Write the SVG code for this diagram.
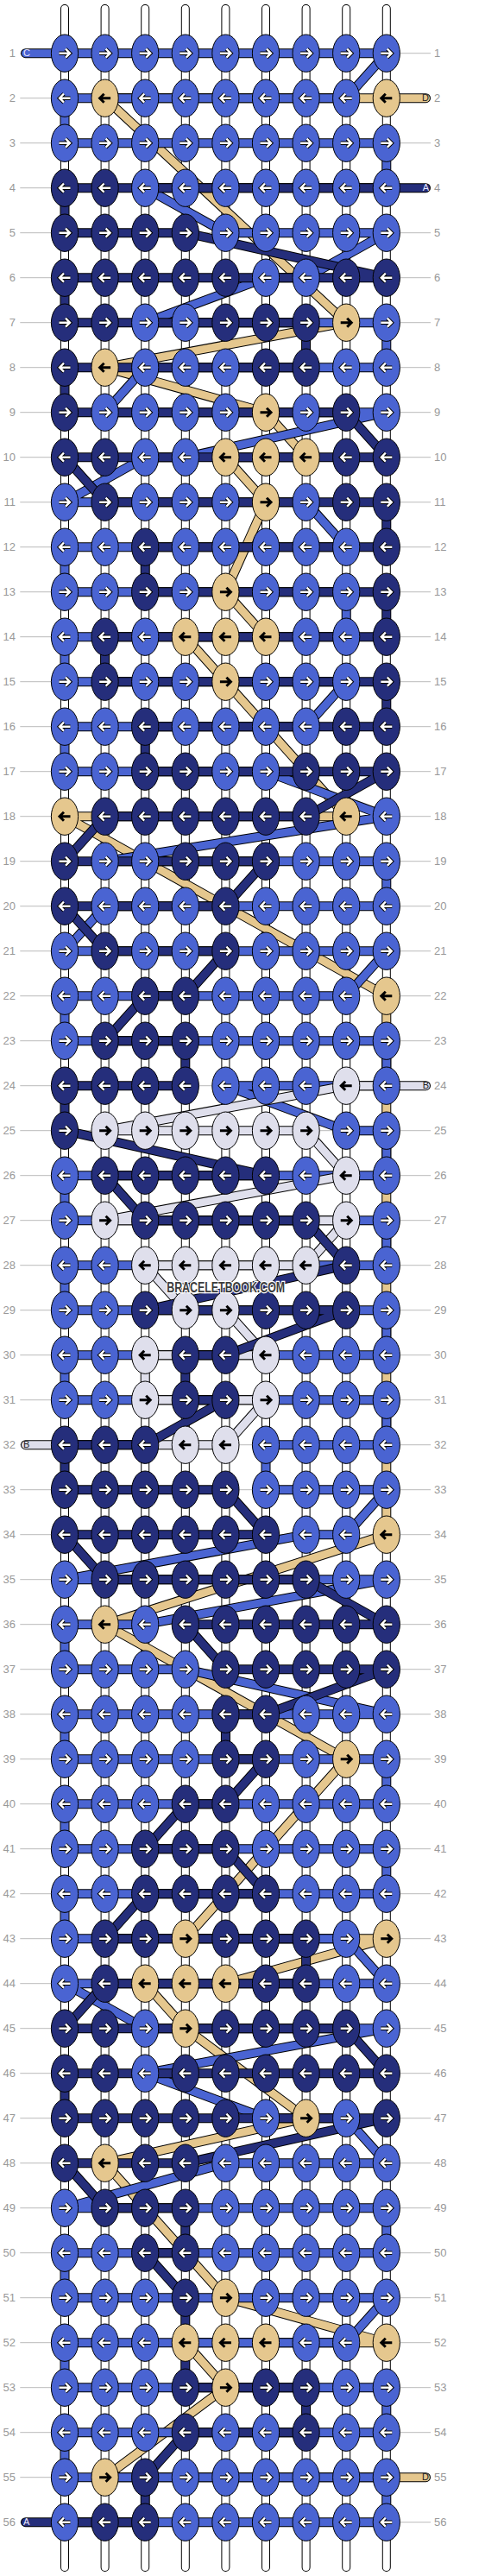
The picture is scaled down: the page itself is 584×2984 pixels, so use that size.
<svg xmlns="http://www.w3.org/2000/svg" xmlns:xlink="http://www.w3.org/1999/xlink" width="584" height="2984" viewBox="0 0 584 2984">
<style>
.rn{font-family:"Liberation Sans",Arial,sans-serif;font-size:13px;fill:#999}
.re{text-anchor:end}
.el{font-family:"Liberation Sans",Arial,sans-serif;font-size:11px}
.wm{font-family:"Liberation Sans",Arial,sans-serif;font-size:16px;font-weight:bold;fill:#3c3c3c;stroke:#fff;stroke-width:2.5px;paint-order:stroke}
</style>
<defs>
<path id="ar" fill="none" d="M-6.5 0H5M1-5 6 0 1 5"/>
<path id="al" fill="none" d="M6.5 0H-5M-1-5-6 0-1 5"/>
<g id="Lr"><ellipse rx="15.6" ry="21.7" fill="#4a64d2" stroke="#000"/><use href="#ar" stroke="#000" stroke-width="4.4"/><use href="#ar" stroke="#fff" stroke-width="2.4"/></g>
<g id="Ll"><ellipse rx="15.6" ry="21.7" fill="#4a64d2" stroke="#000"/><use href="#al" stroke="#000" stroke-width="4.4"/><use href="#al" stroke="#fff" stroke-width="2.4"/></g>
<g id="Nr"><ellipse rx="15.6" ry="21.7" fill="#252e7b" stroke="#000"/><use href="#ar" stroke="#000" stroke-width="4.4"/><use href="#ar" stroke="#fff" stroke-width="2.4"/></g>
<g id="Nl"><ellipse rx="15.6" ry="21.7" fill="#252e7b" stroke="#000"/><use href="#al" stroke="#000" stroke-width="4.4"/><use href="#al" stroke="#fff" stroke-width="2.4"/></g>
<g id="Tr"><ellipse rx="15.6" ry="21.7" fill="#e5c78e" stroke="#000"/><use href="#ar" stroke="#000" stroke-width="3"/></g>
<g id="Tl"><ellipse rx="15.6" ry="21.7" fill="#e5c78e" stroke="#000"/><use href="#al" stroke="#000" stroke-width="3"/></g>
<g id="Wr"><ellipse rx="15.6" ry="21.7" fill="#dfdfec" stroke="#000"/><use href="#ar" stroke="#000" stroke-width="3"/></g>
<g id="Wl"><ellipse rx="15.6" ry="21.7" fill="#dfdfec" stroke="#000"/><use href="#al" stroke="#000" stroke-width="3"/></g>
<path id="pW" d="M46.6 0.3V2964.3M93.2 0.3V2964.3M139.8 0.3V2964.3M186.4 0.3V2964.3M233 0.3V2964.3M279.6 0.3V2964.3M326.2 0.3V2964.3M372.8 0.3V2964.3M419.4 0.3V2964.3"/>
<polyline id="pD" points="465.1,104 419.4,104 93.2,104 372.8,364 93.2,416 279.6,468 326.2,520 233,520 279.6,572 233,676 279.6,728 186.4,728 233,780 372.8,936 46.6,936 419.4,1144 419.4,1768 93.2,1872 372.8,2028 186.4,2236 419.4,2236 233,2288 139.8,2288 186.4,2340 326.2,2444 93.2,2496 233,2652 419.4,2704 186.4,2704 233,2756 93.2,2860 465.1,2860"/>
<polyline id="pC" points="1.1,52 419.4,52 372.8,104 46.6,104 46.6,156 419.4,156 419.4,208 139.8,208 233,260 419.4,260 326.2,312 279.6,312 139.8,364 419.4,364 419.4,416 139.8,416 93.2,468 419.4,468 186.4,520 139.8,520 46.6,572 326.2,572 372.8,624 46.6,624 46.6,676 372.8,676 372.8,728 46.6,728 46.6,780 372.8,780 326.2,832 46.6,832 46.6,884 279.6,884 419.4,936 93.2,988 419.4,988 419.4,1040 93.2,1040 46.6,1092 419.4,1092 372.8,1144 46.6,1144 46.6,1196 419.4,1196 419.4,1248 233,1248 372.8,1300 419.4,1300 419.4,1352 46.6,1352 46.6,1404 419.4,1404 419.4,1456 46.6,1456 46.6,1508 419.4,1508 419.4,1560 46.6,1560 46.6,1612 419.4,1612 419.4,1664 279.6,1664 279.6,1716 419.4,1716 372.8,1768 326.2,1768 46.6,1820 419.4,1820 139.8,1872 46.6,1872 46.6,1924 186.4,1924 419.4,1976 46.6,1976 46.6,2028 419.4,2028 419.4,2080 46.6,2080 46.6,2132 419.4,2132 419.4,2184 46.6,2184 46.6,2236 372.8,2236 419.4,2288 46.6,2288 139.8,2340 419.4,2340 139.8,2392 279.6,2444 372.8,2444 419.4,2496 233,2496 46.6,2548 419.4,2548 419.4,2600 46.6,2600 46.6,2652 419.4,2652 372.8,2704 46.6,2704 46.6,2756 419.4,2756 419.4,2808 46.6,2808 46.6,2860 419.4,2860 419.4,2912 46.6,2912"/>
<polyline id="pB" points="465.1,1248 372.8,1248 93.2,1300 326.2,1300 372.8,1352 93.2,1404 372.8,1404 326.2,1456 139.8,1456 186.4,1508 233,1508 279.6,1560 139.8,1560 139.8,1612 279.6,1612 233,1664 186.4,1664 1.1,1664"/>
<polyline id="pA" points="465.1,208 46.6,208 46.6,260 186.4,260 419.4,312 46.6,312 46.6,364 326.2,364 326.2,416 46.6,416 46.6,468 372.8,468 419.4,520 46.6,520 93.2,572 419.4,572 419.4,624 139.8,624 139.8,676 419.4,676 419.4,728 93.2,728 93.2,780 419.4,780 419.4,832 139.8,832 139.8,884 419.4,884 326.2,936 93.2,936 46.6,988 279.6,988 233,1040 46.6,1040 93.2,1092 233,1092 186.4,1144 139.8,1144 93.2,1196 186.4,1196 186.4,1248 46.6,1248 46.6,1300 279.6,1352 93.2,1352 139.8,1404 326.2,1404 372.8,1456 139.8,1508 372.8,1508 233,1560 186.4,1560 186.4,1612 233,1612 139.8,1664 46.6,1664 46.6,1716 233,1716 279.6,1768 46.6,1768 93.2,1820 326.2,1820 419.4,1872 186.4,1872 233,1924 419.4,1924 279.6,1976 233,1976 233,2028 279.6,2028 233,2080 186.4,2080 139.8,2132 233,2132 279.6,2184 139.8,2184 93.2,2236 326.2,2236 326.2,2288 93.2,2288 46.6,2340 372.8,2340 419.4,2392 46.6,2392 46.6,2444 419.4,2444 186.4,2496 46.6,2496 93.2,2548 186.4,2548 186.4,2600 139.8,2600 186.4,2652 186.4,2756 326.2,2756 326.2,2808 186.4,2808 139.8,2860 139.8,2912 93.2,2912 1.1,2912"/>
</defs>
<rect width="584" height="2984" fill="#fff"/>
<g transform="translate(28.4 9.7)">
<path id="rowlines" fill="none" stroke="#bbb" stroke-width="1" d="M-5.1 52H470.6M-5.1 104H470.6M-5.1 156H470.6M-5.1 208H470.6M-5.1 260H470.6M-5.1 312H470.6M-5.1 364H470.6M-5.1 416H470.6M-5.1 468H470.6M-5.1 520H470.6M-5.1 572H470.6M-5.1 624H470.6M-5.1 676H470.6M-5.1 728H470.6M-5.1 780H470.6M-5.1 832H470.6M-5.1 884H470.6M-5.1 936H470.6M-5.1 988H470.6M-5.1 1040H470.6M-5.1 1092H470.6M-5.1 1144H470.6M-5.1 1196H470.6M-5.1 1248H470.6M-5.1 1300H470.6M-5.1 1352H470.6M-5.1 1404H470.6M-5.1 1456H470.6M-5.1 1508H470.6M-5.1 1560H470.6M-5.1 1612H470.6M-5.1 1664H470.6M-5.1 1716H470.6M-5.1 1768H470.6M-5.1 1820H470.6M-5.1 1872H470.6M-5.1 1924H470.6M-5.1 1976H470.6M-5.1 2028H470.6M-5.1 2080H470.6M-5.1 2132H470.6M-5.1 2184H470.6M-5.1 2236H470.6M-5.1 2288H470.6M-5.1 2340H470.6M-5.1 2392H470.6M-5.1 2444H470.6M-5.1 2496H470.6M-5.1 2548H470.6M-5.1 2600H470.6M-5.1 2652H470.6M-5.1 2704H470.6M-5.1 2756H470.6M-5.1 2808H470.6M-5.1 2860H470.6M-5.1 2912H470.6"/>
<g id="rownumbers" class="rn">
<text class="re" x="-10.4" y="56.6">1</text><text x="474.6" y="56.6">1</text>
<text class="re" x="-10.4" y="108.6">2</text><text x="474.6" y="108.6">2</text>
<text class="re" x="-10.4" y="160.6">3</text><text x="474.6" y="160.6">3</text>
<text class="re" x="-10.4" y="212.6">4</text><text x="474.6" y="212.6">4</text>
<text class="re" x="-10.4" y="264.6">5</text><text x="474.6" y="264.6">5</text>
<text class="re" x="-10.4" y="316.6">6</text><text x="474.6" y="316.6">6</text>
<text class="re" x="-10.4" y="368.6">7</text><text x="474.6" y="368.6">7</text>
<text class="re" x="-10.4" y="420.6">8</text><text x="474.6" y="420.6">8</text>
<text class="re" x="-10.4" y="472.6">9</text><text x="474.6" y="472.6">9</text>
<text class="re" x="-10.4" y="524.6">10</text><text x="474.6" y="524.6">10</text>
<text class="re" x="-10.4" y="576.6">11</text><text x="474.6" y="576.6">11</text>
<text class="re" x="-10.4" y="628.6">12</text><text x="474.6" y="628.6">12</text>
<text class="re" x="-10.4" y="680.6">13</text><text x="474.6" y="680.6">13</text>
<text class="re" x="-10.4" y="732.6">14</text><text x="474.6" y="732.6">14</text>
<text class="re" x="-10.4" y="784.6">15</text><text x="474.6" y="784.6">15</text>
<text class="re" x="-10.4" y="836.6">16</text><text x="474.6" y="836.6">16</text>
<text class="re" x="-10.4" y="888.6">17</text><text x="474.6" y="888.6">17</text>
<text class="re" x="-10.4" y="940.6">18</text><text x="474.6" y="940.6">18</text>
<text class="re" x="-10.4" y="992.6">19</text><text x="474.6" y="992.6">19</text>
<text class="re" x="-10.4" y="1044.6">20</text><text x="474.6" y="1044.6">20</text>
<text class="re" x="-10.4" y="1096.6">21</text><text x="474.6" y="1096.6">21</text>
<text class="re" x="-10.4" y="1148.6">22</text><text x="474.6" y="1148.6">22</text>
<text class="re" x="-10.4" y="1200.6">23</text><text x="474.6" y="1200.6">23</text>
<text class="re" x="-10.4" y="1252.6">24</text><text x="474.6" y="1252.6">24</text>
<text class="re" x="-10.4" y="1304.6">25</text><text x="474.6" y="1304.6">25</text>
<text class="re" x="-10.4" y="1356.6">26</text><text x="474.6" y="1356.6">26</text>
<text class="re" x="-10.4" y="1408.6">27</text><text x="474.6" y="1408.6">27</text>
<text class="re" x="-10.4" y="1460.6">28</text><text x="474.6" y="1460.6">28</text>
<text class="re" x="-10.4" y="1512.6">29</text><text x="474.6" y="1512.6">29</text>
<text class="re" x="-10.4" y="1564.6">30</text><text x="474.6" y="1564.6">30</text>
<text class="re" x="-10.4" y="1616.6">31</text><text x="474.6" y="1616.6">31</text>
<text class="re" x="-10.4" y="1668.6">32</text><text x="474.6" y="1668.6">32</text>
<text class="re" x="-10.4" y="1720.6">33</text><text x="474.6" y="1720.6">33</text>
<text class="re" x="-10.4" y="1772.6">34</text><text x="474.6" y="1772.6">34</text>
<text class="re" x="-10.4" y="1824.6">35</text><text x="474.6" y="1824.6">35</text>
<text class="re" x="-10.4" y="1876.6">36</text><text x="474.6" y="1876.6">36</text>
<text class="re" x="-10.4" y="1928.6">37</text><text x="474.6" y="1928.6">37</text>
<text class="re" x="-10.4" y="1980.6">38</text><text x="474.6" y="1980.6">38</text>
<text class="re" x="-10.4" y="2032.6">39</text><text x="474.6" y="2032.6">39</text>
<text class="re" x="-10.4" y="2084.6">40</text><text x="474.6" y="2084.6">40</text>
<text class="re" x="-10.4" y="2136.6">41</text><text x="474.6" y="2136.6">41</text>
<text class="re" x="-10.4" y="2188.6">42</text><text x="474.6" y="2188.6">42</text>
<text class="re" x="-10.4" y="2240.6">43</text><text x="474.6" y="2240.6">43</text>
<text class="re" x="-10.4" y="2292.6">44</text><text x="474.6" y="2292.6">44</text>
<text class="re" x="-10.4" y="2344.6">45</text><text x="474.6" y="2344.6">45</text>
<text class="re" x="-10.4" y="2396.6">46</text><text x="474.6" y="2396.6">46</text>
<text class="re" x="-10.4" y="2448.6">47</text><text x="474.6" y="2448.6">47</text>
<text class="re" x="-10.4" y="2500.6">48</text><text x="474.6" y="2500.6">48</text>
<text class="re" x="-10.4" y="2552.6">49</text><text x="474.6" y="2552.6">49</text>
<text class="re" x="-10.4" y="2604.6">50</text><text x="474.6" y="2604.6">50</text>
<text class="re" x="-10.4" y="2656.6">51</text><text x="474.6" y="2656.6">51</text>
<text class="re" x="-10.4" y="2708.6">52</text><text x="474.6" y="2708.6">52</text>
<text class="re" x="-10.4" y="2760.6">53</text><text x="474.6" y="2760.6">53</text>
<text class="re" x="-10.4" y="2812.6">54</text><text x="474.6" y="2812.6">54</text>
<text class="re" x="-10.4" y="2864.6">55</text><text x="474.6" y="2864.6">55</text>
<text class="re" x="-10.4" y="2916.6">56</text><text x="474.6" y="2916.6">56</text>
</g>
<g id="connectors" fill="none" stroke-linecap="round" stroke-linejoin="round">
<g id="warps"><use href="#pW" stroke="#000" stroke-width="10"/><use href="#pW" stroke="#fff" stroke-width="8"/></g>
<g id="thread-D"><use href="#pD" stroke="#000" stroke-width="11"/><use href="#pD" stroke="#e5c78e" stroke-width="9"/></g>
<g id="thread-C"><use href="#pC" stroke="#000" stroke-width="11"/><use href="#pC" stroke="#4a64d2" stroke-width="9"/></g>
<g id="thread-B"><use href="#pB" stroke="#000" stroke-width="11"/><use href="#pB" stroke="#dfdfec" stroke-width="9"/></g>
<g id="thread-A"><use href="#pA" stroke="#000" stroke-width="11"/><use href="#pA" stroke="#252e7b" stroke-width="9"/></g>
</g>
<g id="endlabels" class="el">
<text x="-1.4" y="55.8" fill="#e8e8ff">C</text>
<text x="468.6" y="107.8" text-anchor="end" fill="#222">D</text>
<text x="468.6" y="211.8" text-anchor="end" fill="#e8e8ff">A</text>
<text x="468.6" y="1251.8" text-anchor="end" fill="#222">B</text>
<text x="-1.4" y="1667.8" fill="#222">B</text>
<text x="468.6" y="2863.8" text-anchor="end" fill="#222">D</text>
<text x="-1.4" y="2915.8" fill="#e8e8ff">A</text>
</g>
<g id="knots">
<g id="k1-1"><use href="#Lr" x="46.6" y="52"/></g><g id="k1-2"><use href="#Lr" x="93.2" y="52"/></g><g id="k1-3"><use href="#Lr" x="139.8" y="52"/></g><g id="k1-4"><use href="#Lr" x="186.4" y="52"/></g><g id="k1-5"><use href="#Lr" x="233" y="52"/></g><g id="k1-6"><use href="#Lr" x="279.6" y="52"/></g><g id="k1-7"><use href="#Lr" x="326.2" y="52"/></g><g id="k1-8"><use href="#Lr" x="372.8" y="52"/></g><g id="k1-9"><use href="#Lr" x="419.4" y="52"/></g>
<g id="k2-1"><use href="#Ll" x="46.6" y="104"/></g><g id="k2-2"><use href="#Tl" x="93.2" y="104"/></g><g id="k2-3"><use href="#Ll" x="139.8" y="104"/></g><g id="k2-4"><use href="#Ll" x="186.4" y="104"/></g><g id="k2-5"><use href="#Ll" x="233" y="104"/></g><g id="k2-6"><use href="#Ll" x="279.6" y="104"/></g><g id="k2-7"><use href="#Ll" x="326.2" y="104"/></g><g id="k2-8"><use href="#Ll" x="372.8" y="104"/></g><g id="k2-9"><use href="#Tl" x="419.4" y="104"/></g>
<g id="k3-1"><use href="#Lr" x="46.6" y="156"/></g><g id="k3-2"><use href="#Lr" x="93.2" y="156"/></g><g id="k3-3"><use href="#Lr" x="139.8" y="156"/></g><g id="k3-4"><use href="#Lr" x="186.4" y="156"/></g><g id="k3-5"><use href="#Lr" x="233" y="156"/></g><g id="k3-6"><use href="#Lr" x="279.6" y="156"/></g><g id="k3-7"><use href="#Lr" x="326.2" y="156"/></g><g id="k3-8"><use href="#Lr" x="372.8" y="156"/></g><g id="k3-9"><use href="#Lr" x="419.4" y="156"/></g>
<g id="k4-1"><use href="#Nl" x="46.6" y="208"/></g><g id="k4-2"><use href="#Nl" x="93.2" y="208"/></g><g id="k4-3"><use href="#Ll" x="139.8" y="208"/></g><g id="k4-4"><use href="#Ll" x="186.4" y="208"/></g><g id="k4-5"><use href="#Ll" x="233" y="208"/></g><g id="k4-6"><use href="#Ll" x="279.6" y="208"/></g><g id="k4-7"><use href="#Ll" x="326.2" y="208"/></g><g id="k4-8"><use href="#Ll" x="372.8" y="208"/></g><g id="k4-9"><use href="#Ll" x="419.4" y="208"/></g>
<g id="k5-1"><use href="#Nr" x="46.6" y="260"/></g><g id="k5-2"><use href="#Nr" x="93.2" y="260"/></g><g id="k5-3"><use href="#Nr" x="139.8" y="260"/></g><g id="k5-4"><use href="#Nr" x="186.4" y="260"/></g><g id="k5-5"><use href="#Lr" x="233" y="260"/></g><g id="k5-6"><use href="#Lr" x="279.6" y="260"/></g><g id="k5-7"><use href="#Lr" x="326.2" y="260"/></g><g id="k5-8"><use href="#Lr" x="372.8" y="260"/></g><g id="k5-9"><use href="#Lr" x="419.4" y="260"/></g>
<g id="k6-1"><use href="#Nl" x="46.6" y="312"/></g><g id="k6-2"><use href="#Nl" x="93.2" y="312"/></g><g id="k6-3"><use href="#Nl" x="139.8" y="312"/></g><g id="k6-4"><use href="#Nl" x="186.4" y="312"/></g><g id="k6-5"><use href="#Nl" x="233" y="312"/></g><g id="k6-6"><use href="#Ll" x="279.6" y="312"/></g><g id="k6-7"><use href="#Ll" x="326.2" y="312"/></g><g id="k6-8"><use href="#Nl" x="372.8" y="312"/></g><g id="k6-9"><use href="#Nl" x="419.4" y="312"/></g>
<g id="k7-1"><use href="#Nr" x="46.6" y="364"/></g><g id="k7-2"><use href="#Nr" x="93.2" y="364"/></g><g id="k7-3"><use href="#Lr" x="139.8" y="364"/></g><g id="k7-4"><use href="#Lr" x="186.4" y="364"/></g><g id="k7-5"><use href="#Nr" x="233" y="364"/></g><g id="k7-6"><use href="#Nr" x="279.6" y="364"/></g><g id="k7-7"><use href="#Nr" x="326.2" y="364"/></g><g id="k7-8"><use href="#Tr" x="372.8" y="364"/></g><g id="k7-9"><use href="#Lr" x="419.4" y="364"/></g>
<g id="k8-1"><use href="#Nl" x="46.6" y="416"/></g><g id="k8-2"><use href="#Tl" x="93.2" y="416"/></g><g id="k8-3"><use href="#Ll" x="139.8" y="416"/></g><g id="k8-4"><use href="#Ll" x="186.4" y="416"/></g><g id="k8-5"><use href="#Ll" x="233" y="416"/></g><g id="k8-6"><use href="#Nl" x="279.6" y="416"/></g><g id="k8-7"><use href="#Nl" x="326.2" y="416"/></g><g id="k8-8"><use href="#Ll" x="372.8" y="416"/></g><g id="k8-9"><use href="#Ll" x="419.4" y="416"/></g>
<g id="k9-1"><use href="#Nr" x="46.6" y="468"/></g><g id="k9-2"><use href="#Lr" x="93.2" y="468"/></g><g id="k9-3"><use href="#Lr" x="139.8" y="468"/></g><g id="k9-4"><use href="#Lr" x="186.4" y="468"/></g><g id="k9-5"><use href="#Lr" x="233" y="468"/></g><g id="k9-6"><use href="#Tr" x="279.6" y="468"/></g><g id="k9-7"><use href="#Lr" x="326.2" y="468"/></g><g id="k9-8"><use href="#Nr" x="372.8" y="468"/></g><g id="k9-9"><use href="#Lr" x="419.4" y="468"/></g>
<g id="k10-1"><use href="#Nl" x="46.6" y="520"/></g><g id="k10-2"><use href="#Nl" x="93.2" y="520"/></g><g id="k10-3"><use href="#Ll" x="139.8" y="520"/></g><g id="k10-4"><use href="#Ll" x="186.4" y="520"/></g><g id="k10-5"><use href="#Tl" x="233" y="520"/></g><g id="k10-6"><use href="#Tl" x="279.6" y="520"/></g><g id="k10-7"><use href="#Tl" x="326.2" y="520"/></g><g id="k10-8"><use href="#Nl" x="372.8" y="520"/></g><g id="k10-9"><use href="#Nl" x="419.4" y="520"/></g>
<g id="k11-1"><use href="#Lr" x="46.6" y="572"/></g><g id="k11-2"><use href="#Nr" x="93.2" y="572"/></g><g id="k11-3"><use href="#Lr" x="139.8" y="572"/></g><g id="k11-4"><use href="#Lr" x="186.4" y="572"/></g><g id="k11-5"><use href="#Lr" x="233" y="572"/></g><g id="k11-6"><use href="#Tr" x="279.6" y="572"/></g><g id="k11-7"><use href="#Lr" x="326.2" y="572"/></g><g id="k11-8"><use href="#Nr" x="372.8" y="572"/></g><g id="k11-9"><use href="#Nr" x="419.4" y="572"/></g>
<g id="k12-1"><use href="#Ll" x="46.6" y="624"/></g><g id="k12-2"><use href="#Ll" x="93.2" y="624"/></g><g id="k12-3"><use href="#Nl" x="139.8" y="624"/></g><g id="k12-4"><use href="#Ll" x="186.4" y="624"/></g><g id="k12-5"><use href="#Ll" x="233" y="624"/></g><g id="k12-6"><use href="#Ll" x="279.6" y="624"/></g><g id="k12-7"><use href="#Ll" x="326.2" y="624"/></g><g id="k12-8"><use href="#Ll" x="372.8" y="624"/></g><g id="k12-9"><use href="#Nl" x="419.4" y="624"/></g>
<g id="k13-1"><use href="#Lr" x="46.6" y="676"/></g><g id="k13-2"><use href="#Lr" x="93.2" y="676"/></g><g id="k13-3"><use href="#Nr" x="139.8" y="676"/></g><g id="k13-4"><use href="#Lr" x="186.4" y="676"/></g><g id="k13-5"><use href="#Tr" x="233" y="676"/></g><g id="k13-6"><use href="#Lr" x="279.6" y="676"/></g><g id="k13-7"><use href="#Lr" x="326.2" y="676"/></g><g id="k13-8"><use href="#Lr" x="372.8" y="676"/></g><g id="k13-9"><use href="#Nr" x="419.4" y="676"/></g>
<g id="k14-1"><use href="#Ll" x="46.6" y="728"/></g><g id="k14-2"><use href="#Nl" x="93.2" y="728"/></g><g id="k14-3"><use href="#Ll" x="139.8" y="728"/></g><g id="k14-4"><use href="#Tl" x="186.4" y="728"/></g><g id="k14-5"><use href="#Tl" x="233" y="728"/></g><g id="k14-6"><use href="#Tl" x="279.6" y="728"/></g><g id="k14-7"><use href="#Ll" x="326.2" y="728"/></g><g id="k14-8"><use href="#Ll" x="372.8" y="728"/></g><g id="k14-9"><use href="#Nl" x="419.4" y="728"/></g>
<g id="k15-1"><use href="#Lr" x="46.6" y="780"/></g><g id="k15-2"><use href="#Nr" x="93.2" y="780"/></g><g id="k15-3"><use href="#Lr" x="139.8" y="780"/></g><g id="k15-4"><use href="#Lr" x="186.4" y="780"/></g><g id="k15-5"><use href="#Tr" x="233" y="780"/></g><g id="k15-6"><use href="#Lr" x="279.6" y="780"/></g><g id="k15-7"><use href="#Lr" x="326.2" y="780"/></g><g id="k15-8"><use href="#Lr" x="372.8" y="780"/></g><g id="k15-9"><use href="#Nr" x="419.4" y="780"/></g>
<g id="k16-1"><use href="#Ll" x="46.6" y="832"/></g><g id="k16-2"><use href="#Ll" x="93.2" y="832"/></g><g id="k16-3"><use href="#Nl" x="139.8" y="832"/></g><g id="k16-4"><use href="#Ll" x="186.4" y="832"/></g><g id="k16-5"><use href="#Ll" x="233" y="832"/></g><g id="k16-6"><use href="#Ll" x="279.6" y="832"/></g><g id="k16-7"><use href="#Ll" x="326.2" y="832"/></g><g id="k16-8"><use href="#Nl" x="372.8" y="832"/></g><g id="k16-9"><use href="#Nl" x="419.4" y="832"/></g>
<g id="k17-1"><use href="#Lr" x="46.6" y="884"/></g><g id="k17-2"><use href="#Lr" x="93.2" y="884"/></g><g id="k17-3"><use href="#Nr" x="139.8" y="884"/></g><g id="k17-4"><use href="#Nr" x="186.4" y="884"/></g><g id="k17-5"><use href="#Lr" x="233" y="884"/></g><g id="k17-6"><use href="#Lr" x="279.6" y="884"/></g><g id="k17-7"><use href="#Nr" x="326.2" y="884"/></g><g id="k17-8"><use href="#Nr" x="372.8" y="884"/></g><g id="k17-9"><use href="#Nr" x="419.4" y="884"/></g>
<g id="k18-1"><use href="#Tl" x="46.6" y="936"/></g><g id="k18-2"><use href="#Nl" x="93.2" y="936"/></g><g id="k18-3"><use href="#Nl" x="139.8" y="936"/></g><g id="k18-4"><use href="#Nl" x="186.4" y="936"/></g><g id="k18-5"><use href="#Nl" x="233" y="936"/></g><g id="k18-6"><use href="#Nl" x="279.6" y="936"/></g><g id="k18-7"><use href="#Nl" x="326.2" y="936"/></g><g id="k18-8"><use href="#Tl" x="372.8" y="936"/></g><g id="k18-9"><use href="#Ll" x="419.4" y="936"/></g>
<g id="k19-1"><use href="#Nr" x="46.6" y="988"/></g><g id="k19-2"><use href="#Lr" x="93.2" y="988"/></g><g id="k19-3"><use href="#Lr" x="139.8" y="988"/></g><g id="k19-4"><use href="#Nr" x="186.4" y="988"/></g><g id="k19-5"><use href="#Nr" x="233" y="988"/></g><g id="k19-6"><use href="#Nr" x="279.6" y="988"/></g><g id="k19-7"><use href="#Lr" x="326.2" y="988"/></g><g id="k19-8"><use href="#Lr" x="372.8" y="988"/></g><g id="k19-9"><use href="#Lr" x="419.4" y="988"/></g>
<g id="k20-1"><use href="#Nl" x="46.6" y="1040"/></g><g id="k20-2"><use href="#Ll" x="93.2" y="1040"/></g><g id="k20-3"><use href="#Ll" x="139.8" y="1040"/></g><g id="k20-4"><use href="#Ll" x="186.4" y="1040"/></g><g id="k20-5"><use href="#Nl" x="233" y="1040"/></g><g id="k20-6"><use href="#Ll" x="279.6" y="1040"/></g><g id="k20-7"><use href="#Ll" x="326.2" y="1040"/></g><g id="k20-8"><use href="#Ll" x="372.8" y="1040"/></g><g id="k20-9"><use href="#Ll" x="419.4" y="1040"/></g>
<g id="k21-1"><use href="#Lr" x="46.6" y="1092"/></g><g id="k21-2"><use href="#Nr" x="93.2" y="1092"/></g><g id="k21-3"><use href="#Lr" x="139.8" y="1092"/></g><g id="k21-4"><use href="#Lr" x="186.4" y="1092"/></g><g id="k21-5"><use href="#Nr" x="233" y="1092"/></g><g id="k21-6"><use href="#Lr" x="279.6" y="1092"/></g><g id="k21-7"><use href="#Lr" x="326.2" y="1092"/></g><g id="k21-8"><use href="#Lr" x="372.8" y="1092"/></g><g id="k21-9"><use href="#Lr" x="419.4" y="1092"/></g>
<g id="k22-1"><use href="#Ll" x="46.6" y="1144"/></g><g id="k22-2"><use href="#Ll" x="93.2" y="1144"/></g><g id="k22-3"><use href="#Nl" x="139.8" y="1144"/></g><g id="k22-4"><use href="#Nl" x="186.4" y="1144"/></g><g id="k22-5"><use href="#Ll" x="233" y="1144"/></g><g id="k22-6"><use href="#Ll" x="279.6" y="1144"/></g><g id="k22-7"><use href="#Ll" x="326.2" y="1144"/></g><g id="k22-8"><use href="#Ll" x="372.8" y="1144"/></g><g id="k22-9"><use href="#Tl" x="419.4" y="1144"/></g>
<g id="k23-1"><use href="#Lr" x="46.6" y="1196"/></g><g id="k23-2"><use href="#Nr" x="93.2" y="1196"/></g><g id="k23-3"><use href="#Nr" x="139.8" y="1196"/></g><g id="k23-4"><use href="#Nr" x="186.4" y="1196"/></g><g id="k23-5"><use href="#Lr" x="233" y="1196"/></g><g id="k23-6"><use href="#Lr" x="279.6" y="1196"/></g><g id="k23-7"><use href="#Lr" x="326.2" y="1196"/></g><g id="k23-8"><use href="#Lr" x="372.8" y="1196"/></g><g id="k23-9"><use href="#Lr" x="419.4" y="1196"/></g>
<g id="k24-1"><use href="#Nl" x="46.6" y="1248"/></g><g id="k24-2"><use href="#Nl" x="93.2" y="1248"/></g><g id="k24-3"><use href="#Nl" x="139.8" y="1248"/></g><g id="k24-4"><use href="#Nl" x="186.4" y="1248"/></g><g id="k24-5"><use href="#Ll" x="233" y="1248"/></g><g id="k24-6"><use href="#Ll" x="279.6" y="1248"/></g><g id="k24-7"><use href="#Ll" x="326.2" y="1248"/></g><g id="k24-8"><use href="#Wl" x="372.8" y="1248"/></g><g id="k24-9"><use href="#Ll" x="419.4" y="1248"/></g>
<g id="k25-1"><use href="#Nr" x="46.6" y="1300"/></g><g id="k25-2"><use href="#Wr" x="93.2" y="1300"/></g><g id="k25-3"><use href="#Wr" x="139.8" y="1300"/></g><g id="k25-4"><use href="#Wr" x="186.4" y="1300"/></g><g id="k25-5"><use href="#Wr" x="233" y="1300"/></g><g id="k25-6"><use href="#Wr" x="279.6" y="1300"/></g><g id="k25-7"><use href="#Wr" x="326.2" y="1300"/></g><g id="k25-8"><use href="#Lr" x="372.8" y="1300"/></g><g id="k25-9"><use href="#Lr" x="419.4" y="1300"/></g>
<g id="k26-1"><use href="#Ll" x="46.6" y="1352"/></g><g id="k26-2"><use href="#Nl" x="93.2" y="1352"/></g><g id="k26-3"><use href="#Nl" x="139.8" y="1352"/></g><g id="k26-4"><use href="#Nl" x="186.4" y="1352"/></g><g id="k26-5"><use href="#Nl" x="233" y="1352"/></g><g id="k26-6"><use href="#Nl" x="279.6" y="1352"/></g><g id="k26-7"><use href="#Ll" x="326.2" y="1352"/></g><g id="k26-8"><use href="#Wl" x="372.8" y="1352"/></g><g id="k26-9"><use href="#Ll" x="419.4" y="1352"/></g>
<g id="k27-1"><use href="#Lr" x="46.6" y="1404"/></g><g id="k27-2"><use href="#Wr" x="93.2" y="1404"/></g><g id="k27-3"><use href="#Nr" x="139.8" y="1404"/></g><g id="k27-4"><use href="#Nr" x="186.4" y="1404"/></g><g id="k27-5"><use href="#Nr" x="233" y="1404"/></g><g id="k27-6"><use href="#Nr" x="279.6" y="1404"/></g><g id="k27-7"><use href="#Nr" x="326.2" y="1404"/></g><g id="k27-8"><use href="#Wr" x="372.8" y="1404"/></g><g id="k27-9"><use href="#Lr" x="419.4" y="1404"/></g>
<g id="k28-1"><use href="#Ll" x="46.6" y="1456"/></g><g id="k28-2"><use href="#Ll" x="93.2" y="1456"/></g><g id="k28-3"><use href="#Wl" x="139.8" y="1456"/></g><g id="k28-4"><use href="#Wl" x="186.4" y="1456"/></g><g id="k28-5"><use href="#Wl" x="233" y="1456"/></g><g id="k28-6"><use href="#Wl" x="279.6" y="1456"/></g><g id="k28-7"><use href="#Wl" x="326.2" y="1456"/></g><g id="k28-8"><use href="#Nl" x="372.8" y="1456"/></g><g id="k28-9"><use href="#Ll" x="419.4" y="1456"/></g>
<g id="k29-1"><use href="#Lr" x="46.6" y="1508"/></g><g id="k29-2"><use href="#Lr" x="93.2" y="1508"/></g><g id="k29-3"><use href="#Nr" x="139.8" y="1508"/></g><g id="k29-4"><use href="#Wr" x="186.4" y="1508"/></g><g id="k29-5"><use href="#Wr" x="233" y="1508"/></g><g id="k29-6"><use href="#Nr" x="279.6" y="1508"/></g><g id="k29-7"><use href="#Nr" x="326.2" y="1508"/></g><g id="k29-8"><use href="#Nr" x="372.8" y="1508"/></g><g id="k29-9"><use href="#Lr" x="419.4" y="1508"/></g>
<g id="k30-1"><use href="#Ll" x="46.6" y="1560"/></g><g id="k30-2"><use href="#Ll" x="93.2" y="1560"/></g><g id="k30-3"><use href="#Wl" x="139.8" y="1560"/></g><g id="k30-4"><use href="#Nl" x="186.4" y="1560"/></g><g id="k30-5"><use href="#Nl" x="233" y="1560"/></g><g id="k30-6"><use href="#Wl" x="279.6" y="1560"/></g><g id="k30-7"><use href="#Ll" x="326.2" y="1560"/></g><g id="k30-8"><use href="#Ll" x="372.8" y="1560"/></g><g id="k30-9"><use href="#Ll" x="419.4" y="1560"/></g>
<g id="k31-1"><use href="#Lr" x="46.6" y="1612"/></g><g id="k31-2"><use href="#Lr" x="93.2" y="1612"/></g><g id="k31-3"><use href="#Wr" x="139.8" y="1612"/></g><g id="k31-4"><use href="#Nr" x="186.4" y="1612"/></g><g id="k31-5"><use href="#Nr" x="233" y="1612"/></g><g id="k31-6"><use href="#Wr" x="279.6" y="1612"/></g><g id="k31-7"><use href="#Lr" x="326.2" y="1612"/></g><g id="k31-8"><use href="#Lr" x="372.8" y="1612"/></g><g id="k31-9"><use href="#Lr" x="419.4" y="1612"/></g>
<g id="k32-1"><use href="#Nl" x="46.6" y="1664"/></g><g id="k32-2"><use href="#Nl" x="93.2" y="1664"/></g><g id="k32-3"><use href="#Nl" x="139.8" y="1664"/></g><g id="k32-4"><use href="#Wl" x="186.4" y="1664"/></g><g id="k32-5"><use href="#Wl" x="233" y="1664"/></g><g id="k32-6"><use href="#Ll" x="279.6" y="1664"/></g><g id="k32-7"><use href="#Ll" x="326.2" y="1664"/></g><g id="k32-8"><use href="#Ll" x="372.8" y="1664"/></g><g id="k32-9"><use href="#Ll" x="419.4" y="1664"/></g>
<g id="k33-1"><use href="#Nr" x="46.6" y="1716"/></g><g id="k33-2"><use href="#Nr" x="93.2" y="1716"/></g><g id="k33-3"><use href="#Nr" x="139.8" y="1716"/></g><g id="k33-4"><use href="#Nr" x="186.4" y="1716"/></g><g id="k33-5"><use href="#Nr" x="233" y="1716"/></g><g id="k33-6"><use href="#Lr" x="279.6" y="1716"/></g><g id="k33-7"><use href="#Lr" x="326.2" y="1716"/></g><g id="k33-8"><use href="#Lr" x="372.8" y="1716"/></g><g id="k33-9"><use href="#Lr" x="419.4" y="1716"/></g>
<g id="k34-1"><use href="#Nl" x="46.6" y="1768"/></g><g id="k34-2"><use href="#Nl" x="93.2" y="1768"/></g><g id="k34-3"><use href="#Nl" x="139.8" y="1768"/></g><g id="k34-4"><use href="#Nl" x="186.4" y="1768"/></g><g id="k34-5"><use href="#Nl" x="233" y="1768"/></g><g id="k34-6"><use href="#Nl" x="279.6" y="1768"/></g><g id="k34-7"><use href="#Ll" x="326.2" y="1768"/></g><g id="k34-8"><use href="#Ll" x="372.8" y="1768"/></g><g id="k34-9"><use href="#Tl" x="419.4" y="1768"/></g>
<g id="k35-1"><use href="#Lr" x="46.6" y="1820"/></g><g id="k35-2"><use href="#Nr" x="93.2" y="1820"/></g><g id="k35-3"><use href="#Nr" x="139.8" y="1820"/></g><g id="k35-4"><use href="#Nr" x="186.4" y="1820"/></g><g id="k35-5"><use href="#Nr" x="233" y="1820"/></g><g id="k35-6"><use href="#Nr" x="279.6" y="1820"/></g><g id="k35-7"><use href="#Nr" x="326.2" y="1820"/></g><g id="k35-8"><use href="#Lr" x="372.8" y="1820"/></g><g id="k35-9"><use href="#Lr" x="419.4" y="1820"/></g>
<g id="k36-1"><use href="#Ll" x="46.6" y="1872"/></g><g id="k36-2"><use href="#Tl" x="93.2" y="1872"/></g><g id="k36-3"><use href="#Ll" x="139.8" y="1872"/></g><g id="k36-4"><use href="#Nl" x="186.4" y="1872"/></g><g id="k36-5"><use href="#Nl" x="233" y="1872"/></g><g id="k36-6"><use href="#Nl" x="279.6" y="1872"/></g><g id="k36-7"><use href="#Nl" x="326.2" y="1872"/></g><g id="k36-8"><use href="#Nl" x="372.8" y="1872"/></g><g id="k36-9"><use href="#Nl" x="419.4" y="1872"/></g>
<g id="k37-1"><use href="#Lr" x="46.6" y="1924"/></g><g id="k37-2"><use href="#Lr" x="93.2" y="1924"/></g><g id="k37-3"><use href="#Lr" x="139.8" y="1924"/></g><g id="k37-4"><use href="#Lr" x="186.4" y="1924"/></g><g id="k37-5"><use href="#Nr" x="233" y="1924"/></g><g id="k37-6"><use href="#Nr" x="279.6" y="1924"/></g><g id="k37-7"><use href="#Nr" x="326.2" y="1924"/></g><g id="k37-8"><use href="#Nr" x="372.8" y="1924"/></g><g id="k37-9"><use href="#Nr" x="419.4" y="1924"/></g>
<g id="k38-1"><use href="#Ll" x="46.6" y="1976"/></g><g id="k38-2"><use href="#Ll" x="93.2" y="1976"/></g><g id="k38-3"><use href="#Ll" x="139.8" y="1976"/></g><g id="k38-4"><use href="#Ll" x="186.4" y="1976"/></g><g id="k38-5"><use href="#Nl" x="233" y="1976"/></g><g id="k38-6"><use href="#Nl" x="279.6" y="1976"/></g><g id="k38-7"><use href="#Ll" x="326.2" y="1976"/></g><g id="k38-8"><use href="#Ll" x="372.8" y="1976"/></g><g id="k38-9"><use href="#Ll" x="419.4" y="1976"/></g>
<g id="k39-1"><use href="#Lr" x="46.6" y="2028"/></g><g id="k39-2"><use href="#Lr" x="93.2" y="2028"/></g><g id="k39-3"><use href="#Lr" x="139.8" y="2028"/></g><g id="k39-4"><use href="#Lr" x="186.4" y="2028"/></g><g id="k39-5"><use href="#Nr" x="233" y="2028"/></g><g id="k39-6"><use href="#Nr" x="279.6" y="2028"/></g><g id="k39-7"><use href="#Lr" x="326.2" y="2028"/></g><g id="k39-8"><use href="#Tr" x="372.8" y="2028"/></g><g id="k39-9"><use href="#Lr" x="419.4" y="2028"/></g>
<g id="k40-1"><use href="#Ll" x="46.6" y="2080"/></g><g id="k40-2"><use href="#Ll" x="93.2" y="2080"/></g><g id="k40-3"><use href="#Ll" x="139.8" y="2080"/></g><g id="k40-4"><use href="#Nl" x="186.4" y="2080"/></g><g id="k40-5"><use href="#Nl" x="233" y="2080"/></g><g id="k40-6"><use href="#Ll" x="279.6" y="2080"/></g><g id="k40-7"><use href="#Ll" x="326.2" y="2080"/></g><g id="k40-8"><use href="#Ll" x="372.8" y="2080"/></g><g id="k40-9"><use href="#Ll" x="419.4" y="2080"/></g>
<g id="k41-1"><use href="#Lr" x="46.6" y="2132"/></g><g id="k41-2"><use href="#Lr" x="93.2" y="2132"/></g><g id="k41-3"><use href="#Nr" x="139.8" y="2132"/></g><g id="k41-4"><use href="#Nr" x="186.4" y="2132"/></g><g id="k41-5"><use href="#Nr" x="233" y="2132"/></g><g id="k41-6"><use href="#Lr" x="279.6" y="2132"/></g><g id="k41-7"><use href="#Lr" x="326.2" y="2132"/></g><g id="k41-8"><use href="#Lr" x="372.8" y="2132"/></g><g id="k41-9"><use href="#Lr" x="419.4" y="2132"/></g>
<g id="k42-1"><use href="#Ll" x="46.6" y="2184"/></g><g id="k42-2"><use href="#Ll" x="93.2" y="2184"/></g><g id="k42-3"><use href="#Nl" x="139.8" y="2184"/></g><g id="k42-4"><use href="#Nl" x="186.4" y="2184"/></g><g id="k42-5"><use href="#Nl" x="233" y="2184"/></g><g id="k42-6"><use href="#Nl" x="279.6" y="2184"/></g><g id="k42-7"><use href="#Ll" x="326.2" y="2184"/></g><g id="k42-8"><use href="#Ll" x="372.8" y="2184"/></g><g id="k42-9"><use href="#Ll" x="419.4" y="2184"/></g>
<g id="k43-1"><use href="#Lr" x="46.6" y="2236"/></g><g id="k43-2"><use href="#Nr" x="93.2" y="2236"/></g><g id="k43-3"><use href="#Nr" x="139.8" y="2236"/></g><g id="k43-4"><use href="#Tr" x="186.4" y="2236"/></g><g id="k43-5"><use href="#Nr" x="233" y="2236"/></g><g id="k43-6"><use href="#Nr" x="279.6" y="2236"/></g><g id="k43-7"><use href="#Nr" x="326.2" y="2236"/></g><g id="k43-8"><use href="#Lr" x="372.8" y="2236"/></g><g id="k43-9"><use href="#Tr" x="419.4" y="2236"/></g>
<g id="k44-1"><use href="#Ll" x="46.6" y="2288"/></g><g id="k44-2"><use href="#Nl" x="93.2" y="2288"/></g><g id="k44-3"><use href="#Tl" x="139.8" y="2288"/></g><g id="k44-4"><use href="#Tl" x="186.4" y="2288"/></g><g id="k44-5"><use href="#Tl" x="233" y="2288"/></g><g id="k44-6"><use href="#Nl" x="279.6" y="2288"/></g><g id="k44-7"><use href="#Nl" x="326.2" y="2288"/></g><g id="k44-8"><use href="#Ll" x="372.8" y="2288"/></g><g id="k44-9"><use href="#Ll" x="419.4" y="2288"/></g>
<g id="k45-1"><use href="#Nr" x="46.6" y="2340"/></g><g id="k45-2"><use href="#Nr" x="93.2" y="2340"/></g><g id="k45-3"><use href="#Lr" x="139.8" y="2340"/></g><g id="k45-4"><use href="#Tr" x="186.4" y="2340"/></g><g id="k45-5"><use href="#Nr" x="233" y="2340"/></g><g id="k45-6"><use href="#Nr" x="279.6" y="2340"/></g><g id="k45-7"><use href="#Nr" x="326.2" y="2340"/></g><g id="k45-8"><use href="#Nr" x="372.8" y="2340"/></g><g id="k45-9"><use href="#Lr" x="419.4" y="2340"/></g>
<g id="k46-1"><use href="#Nl" x="46.6" y="2392"/></g><g id="k46-2"><use href="#Nl" x="93.2" y="2392"/></g><g id="k46-3"><use href="#Ll" x="139.8" y="2392"/></g><g id="k46-4"><use href="#Nl" x="186.4" y="2392"/></g><g id="k46-5"><use href="#Nl" x="233" y="2392"/></g><g id="k46-6"><use href="#Nl" x="279.6" y="2392"/></g><g id="k46-7"><use href="#Nl" x="326.2" y="2392"/></g><g id="k46-8"><use href="#Nl" x="372.8" y="2392"/></g><g id="k46-9"><use href="#Nl" x="419.4" y="2392"/></g>
<g id="k47-1"><use href="#Nr" x="46.6" y="2444"/></g><g id="k47-2"><use href="#Nr" x="93.2" y="2444"/></g><g id="k47-3"><use href="#Nr" x="139.8" y="2444"/></g><g id="k47-4"><use href="#Nr" x="186.4" y="2444"/></g><g id="k47-5"><use href="#Nr" x="233" y="2444"/></g><g id="k47-6"><use href="#Lr" x="279.6" y="2444"/></g><g id="k47-7"><use href="#Tr" x="326.2" y="2444"/></g><g id="k47-8"><use href="#Lr" x="372.8" y="2444"/></g><g id="k47-9"><use href="#Nr" x="419.4" y="2444"/></g>
<g id="k48-1"><use href="#Nl" x="46.6" y="2496"/></g><g id="k48-2"><use href="#Tl" x="93.2" y="2496"/></g><g id="k48-3"><use href="#Nl" x="139.8" y="2496"/></g><g id="k48-4"><use href="#Nl" x="186.4" y="2496"/></g><g id="k48-5"><use href="#Ll" x="233" y="2496"/></g><g id="k48-6"><use href="#Ll" x="279.6" y="2496"/></g><g id="k48-7"><use href="#Ll" x="326.2" y="2496"/></g><g id="k48-8"><use href="#Ll" x="372.8" y="2496"/></g><g id="k48-9"><use href="#Ll" x="419.4" y="2496"/></g>
<g id="k49-1"><use href="#Lr" x="46.6" y="2548"/></g><g id="k49-2"><use href="#Nr" x="93.2" y="2548"/></g><g id="k49-3"><use href="#Nr" x="139.8" y="2548"/></g><g id="k49-4"><use href="#Nr" x="186.4" y="2548"/></g><g id="k49-5"><use href="#Lr" x="233" y="2548"/></g><g id="k49-6"><use href="#Lr" x="279.6" y="2548"/></g><g id="k49-7"><use href="#Lr" x="326.2" y="2548"/></g><g id="k49-8"><use href="#Lr" x="372.8" y="2548"/></g><g id="k49-9"><use href="#Lr" x="419.4" y="2548"/></g>
<g id="k50-1"><use href="#Ll" x="46.6" y="2600"/></g><g id="k50-2"><use href="#Ll" x="93.2" y="2600"/></g><g id="k50-3"><use href="#Nl" x="139.8" y="2600"/></g><g id="k50-4"><use href="#Nl" x="186.4" y="2600"/></g><g id="k50-5"><use href="#Ll" x="233" y="2600"/></g><g id="k50-6"><use href="#Ll" x="279.6" y="2600"/></g><g id="k50-7"><use href="#Ll" x="326.2" y="2600"/></g><g id="k50-8"><use href="#Ll" x="372.8" y="2600"/></g><g id="k50-9"><use href="#Ll" x="419.4" y="2600"/></g>
<g id="k51-1"><use href="#Lr" x="46.6" y="2652"/></g><g id="k51-2"><use href="#Lr" x="93.2" y="2652"/></g><g id="k51-3"><use href="#Lr" x="139.8" y="2652"/></g><g id="k51-4"><use href="#Nr" x="186.4" y="2652"/></g><g id="k51-5"><use href="#Tr" x="233" y="2652"/></g><g id="k51-6"><use href="#Lr" x="279.6" y="2652"/></g><g id="k51-7"><use href="#Lr" x="326.2" y="2652"/></g><g id="k51-8"><use href="#Lr" x="372.8" y="2652"/></g><g id="k51-9"><use href="#Lr" x="419.4" y="2652"/></g>
<g id="k52-1"><use href="#Ll" x="46.6" y="2704"/></g><g id="k52-2"><use href="#Ll" x="93.2" y="2704"/></g><g id="k52-3"><use href="#Ll" x="139.8" y="2704"/></g><g id="k52-4"><use href="#Tl" x="186.4" y="2704"/></g><g id="k52-5"><use href="#Tl" x="233" y="2704"/></g><g id="k52-6"><use href="#Tl" x="279.6" y="2704"/></g><g id="k52-7"><use href="#Ll" x="326.2" y="2704"/></g><g id="k52-8"><use href="#Ll" x="372.8" y="2704"/></g><g id="k52-9"><use href="#Tl" x="419.4" y="2704"/></g>
<g id="k53-1"><use href="#Lr" x="46.6" y="2756"/></g><g id="k53-2"><use href="#Lr" x="93.2" y="2756"/></g><g id="k53-3"><use href="#Lr" x="139.8" y="2756"/></g><g id="k53-4"><use href="#Nr" x="186.4" y="2756"/></g><g id="k53-5"><use href="#Tr" x="233" y="2756"/></g><g id="k53-6"><use href="#Nr" x="279.6" y="2756"/></g><g id="k53-7"><use href="#Nr" x="326.2" y="2756"/></g><g id="k53-8"><use href="#Lr" x="372.8" y="2756"/></g><g id="k53-9"><use href="#Lr" x="419.4" y="2756"/></g>
<g id="k54-1"><use href="#Ll" x="46.6" y="2808"/></g><g id="k54-2"><use href="#Ll" x="93.2" y="2808"/></g><g id="k54-3"><use href="#Ll" x="139.8" y="2808"/></g><g id="k54-4"><use href="#Nl" x="186.4" y="2808"/></g><g id="k54-5"><use href="#Ll" x="233" y="2808"/></g><g id="k54-6"><use href="#Ll" x="279.6" y="2808"/></g><g id="k54-7"><use href="#Nl" x="326.2" y="2808"/></g><g id="k54-8"><use href="#Ll" x="372.8" y="2808"/></g><g id="k54-9"><use href="#Ll" x="419.4" y="2808"/></g>
<g id="k55-1"><use href="#Lr" x="46.6" y="2860"/></g><g id="k55-2"><use href="#Tr" x="93.2" y="2860"/></g><g id="k55-3"><use href="#Nr" x="139.8" y="2860"/></g><g id="k55-4"><use href="#Lr" x="186.4" y="2860"/></g><g id="k55-5"><use href="#Lr" x="233" y="2860"/></g><g id="k55-6"><use href="#Lr" x="279.6" y="2860"/></g><g id="k55-7"><use href="#Lr" x="326.2" y="2860"/></g><g id="k55-8"><use href="#Lr" x="372.8" y="2860"/></g><g id="k55-9"><use href="#Lr" x="419.4" y="2860"/></g>
<g id="k56-1"><use href="#Ll" x="46.6" y="2912"/></g><g id="k56-2"><use href="#Nl" x="93.2" y="2912"/></g><g id="k56-3"><use href="#Nl" x="139.8" y="2912"/></g><g id="k56-4"><use href="#Ll" x="186.4" y="2912"/></g><g id="k56-5"><use href="#Ll" x="233" y="2912"/></g><g id="k56-6"><use href="#Ll" x="279.6" y="2912"/></g><g id="k56-7"><use href="#Ll" x="326.2" y="2912"/></g><g id="k56-8"><use href="#Ll" x="372.8" y="2912"/></g><g id="k56-9"><use href="#Ll" x="419.4" y="2912"/></g>
</g>
<text id="watermark" class="wm" x="233.3" y="1487.3" text-anchor="middle" textLength="137" lengthAdjust="spacingAndGlyphs">BRACELETBOOK.COM</text>
</g>
</svg>
